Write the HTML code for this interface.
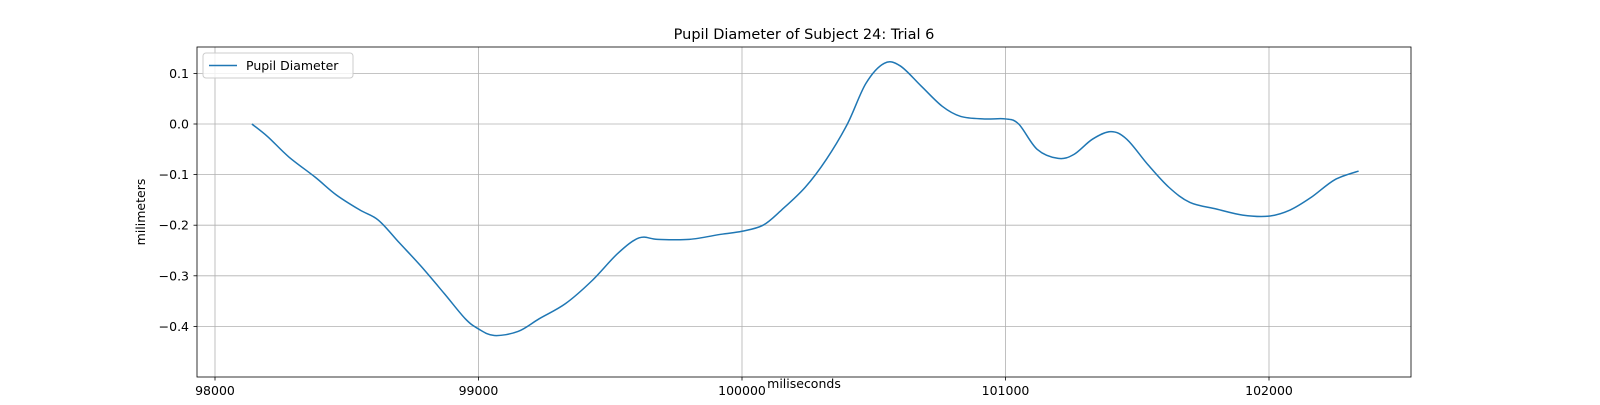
<!DOCTYPE html>
<html><head><meta charset="utf-8"><style>
body{margin:0;background:#fff;font-family:"Liberation Sans","DejaVu Sans",sans-serif}
svg text{font-family:"DejaVu Sans","Liberation Sans",sans-serif;fill:#000}
</style></head><body>
<svg id="chart" width="1600" height="400" xmlns="http://www.w3.org/2000/svg">
<rect width="1600" height="400" fill="#fff"/>
<g id="grid"></g>
<g id="ticks"></g>
<path id="line" fill="none" stroke="#1f77b4" stroke-width="1.5"/>
<rect x="197" y="47" width="1214" height="330" fill="none" stroke="#000" stroke-width="0.8"/>
<text x="804" y="39" font-size="14.5" text-anchor="middle">Pupil Diameter of Subject 24: Trial 6</text>
<text x="804" y="388" font-size="12.5" text-anchor="middle">miliseconds</text>
<text transform="translate(145,212) rotate(-90)" font-size="12.5" text-anchor="middle">milimeters</text>
<g>
<rect x="203" y="53" width="150" height="25" rx="3" fill="#fff" fill-opacity="0.8" stroke="#ccc"/>
<line x1="209" y1="65.5" x2="237" y2="65.5" stroke="#1f77b4" stroke-width="1.5"/>
<text x="246" y="70" font-size="12.5">Pupil Diameter</text>
</g>
</svg>
<script>
const xTicks=[98000,99000,100000,101000,102000];
const yTicks=[0.1,0.0,-0.1,-0.2,-0.3,-0.4];
const yTickLabels=["0.1","0.0","−0.1","−0.2","−0.3","−0.4"];
const times=[98140,98200,98280,98380,98460,98550,98620,98700,98780,98870,98950,99000,99060,99150,99230,99330,99430,99530,99610,99680,99800,99920,100000,100080,100150,100240,100320,100400,100470,100540,100600,100680,100760,100830,100920,101000,101050,101120,101200,101260,101330,101400,101460,101540,101620,101700,101800,101900,102000,102080,102160,102250,102340];
const diam=[0.0,-0.025,-0.065,-0.105,-0.14,-0.17,-0.19,-0.235,-0.28,-0.335,-0.385,-0.405,-0.418,-0.41,-0.385,-0.355,-0.31,-0.255,-0.225,-0.228,-0.228,-0.218,-0.212,-0.2,-0.17,-0.125,-0.07,0.0,0.08,0.12,0.115,0.075,0.035,0.015,0.01,0.01,0.0,-0.05,-0.068,-0.06,-0.03,-0.015,-0.03,-0.08,-0.125,-0.155,-0.168,-0.18,-0.182,-0.17,-0.145,-0.11,-0.093];
const X=v=>215+(v-98000)*0.2635;
const Y=v=>124-v*506;
const NS="http://www.w3.org/2000/svg";
const grid=document.getElementById('grid'),ticks=document.getElementById('ticks');
function mk(tag,attrs,parent){const e=document.createElementNS(NS,tag);for(const k in attrs)e.setAttribute(k,attrs[k]);parent.appendChild(e);return e;}
xTicks.forEach(t=>{const x=X(t);
const g=mk('line',{x1:x,x2:x,y1:47,y2:377,stroke:'#b0b0b0','stroke-width':0.8},grid);


mk('line',{x1:x,x2:x,y1:377,y2:380.5,stroke:'#000','stroke-width':0.8},ticks);
const tx=mk('text',{x:x,y:395,'font-size':12.5,'text-anchor':'middle'},ticks);tx.textContent=t;

});
yTicks.forEach((t,i)=>{const y=Y(t);
const g=mk('line',{x1:197,x2:1411,y1:y,y2:y,stroke:'#b0b0b0','stroke-width':0.8},grid);


mk('line',{x1:193.5,x2:197,y1:y,y2:y,stroke:'#000','stroke-width':0.8},ticks);
const tx=mk('text',{x:189,y:y+4.5,'font-size':12.5,'text-anchor':'end'},ticks);tx.textContent=yTickLabels[i];

});
const P=times.map((t,i)=>[X(t),Y(diam[i])]);
let d='M'+P[0][0]+','+P[0][1];
for(let i=0;i<P.length-1;i++){const p0=P[Math.max(i-1,0)],p1=P[i],p2=P[i+1],p3=P[Math.min(i+2,P.length-1)];
d+=' C'+(p1[0]+(p2[0]-p0[0])/6)+','+(p1[1]+(p2[1]-p0[1])/6)+' '+(p2[0]-(p3[0]-p1[0])/6)+','+(p2[1]-(p3[1]-p1[1])/6)+' '+p2[0]+','+p2[1];}
document.getElementById('line').setAttribute('d',d);
</script>
</body></html>
